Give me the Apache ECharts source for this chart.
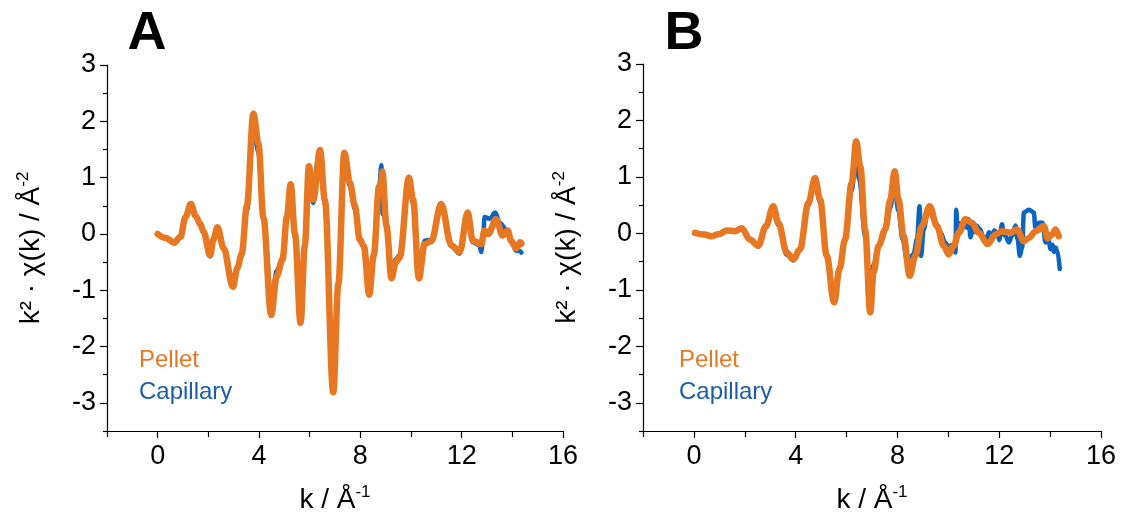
<!DOCTYPE html>
<html>
<head>
<meta charset="utf-8">
<title>EXAFS k²-weighted χ(k)</title>
<script src="https://cdn.jsdelivr.net/npm/echarts@6/dist/echarts.min.js"></script>
<style>
  html, body { margin: 0; padding: 0; background: #ffffff; }
  #chart { width: 1121px; height: 519px; }
</style>
</head>
<body>
<div id="chart"></div>
<script>
// Panel A: k (Å⁻¹) and k²·χ(k) for the pellet and capillary measurements
const kPelletA = [0, 0.3, 0.66, 0.9, 1.1, 1.31, 1.5, 1.68, 1.81, 2.07, 2.2, 2.36, 2.6, 2.97, 3.15, 3.32, 3.52, 3.78, 3.98, 4.17, 4.48, 4.7, 4.93, 5.1, 5.25, 5.42, 5.64, 5.81, 5.97, 6.14, 6.41, 6.6, 6.93, 7.13, 7.37, 7.59, 7.78, 7.98, 8.14, 8.35, 8.53, 8.74, 8.8, 8.87, 9.03, 9.23, 9.4, 9.55, 9.92, 10.08, 10.31, 10.54, 10.8, 11.19, 11.59, 11.92, 12.24, 12.44, 12.77, 12.9, 13.05, 13.36, 13.62, 13.82, 13.95, 14.15, 14.3, 14.36];
const chiPelletA = [0, -0.07, -0.15, -0.05, 0.3, 0.53, 0.32, 0.18, 0.04, -0.38, -0.1, 0.12, -0.25, -0.94, -0.6, -0.35, 0.5, 2.14, 1.6, 0.3, -1.44, -0.75, -0.45, 0.3, 0.88, 0.0, -1.58, -0.2, 1.2, 0.61, 1.49, 0.6, -2.81, -0.9, 1.44, 0.91, 0.5, -0.1, -0.22, -1.08, -0.38, 0.85, 0.75, 1.11, 0.15, -0.79, -0.5, -0.42, 1.0, 0.62, -0.79, -0.18, -0.13, 0.53, -0.2, -0.32, 0.38, -0.12, -0.18, 0.06, 0.0, 0.26, -0.03, 0.06, -0.12, -0.26, -0.15, -0.17];

const kCapillaryA = [0, 0.3, 0.66, 0.9, 1.1, 1.31, 1.5, 1.68, 1.81, 2.07, 2.2, 2.36, 2.6, 2.97, 3.15, 3.32, 3.52, 3.78, 3.98, 4.17, 4.5, 4.7, 4.93, 5.1, 5.25, 5.42, 5.64, 5.81, 5.97, 6.14, 6.41, 6.6, 6.93, 7.13, 7.37, 7.59, 7.78, 7.98, 8.14, 8.35, 8.53, 8.74, 8.83, 8.88, 8.92, 9.03, 9.23, 9.4, 9.55, 9.92, 10.08, 10.31, 10.54, 10.8, 11.19, 11.59, 11.92, 12.24, 12.44, 12.7, 12.77, 12.85, 12.9, 13.1, 13.33, 13.5, 13.76, 13.9, 14.02, 14.15, 14.28, 14.36];
const chiCapillaryA = [0, -0.08, -0.17, -0.07, 0.28, 0.5, 0.3, 0.15, 0.02, -0.4, -0.12, 0.1, -0.27, -0.92, -0.6, -0.38, 0.4, 1.88, 1.45, 0.25, -1.2, -0.65, -0.45, 0.25, 0.75, -0.05, -1.45, -0.25, 1.05, 0.55, 1.35, 0.55, -2.65, -0.85, 1.3, 0.85, 0.45, -0.12, -0.25, -0.95, -0.35, 0.8, 1.22, 0.35, 0.4, 0.1, -0.72, -0.45, -0.38, 0.88, 0.55, -0.72, -0.12, -0.1, 0.5, -0.22, -0.35, 0.35, -0.15, -0.2, -0.32, -0.1, 0.3, 0.27, 0.38, 0.2, 0.08, -0.05, -0.2, -0.3, -0.3, -0.33];

// Panel B: same quantities for the second sample
const kPelletB = [0.04, 0.4, 0.7, 1.0, 1.29, 1.61, 1.88, 2.2, 2.53, 2.83, 3.12, 3.32, 3.65, 3.91, 4.17, 4.5, 4.76, 4.96, 5.22, 5.51, 5.72, 5.94, 6.2, 6.38, 6.54, 6.73, 6.93, 7.06, 7.26, 7.52, 7.72, 7.89, 8.04, 8.24, 8.48, 8.7, 8.96, 9.27, 9.55, 9.82, 10.01, 10.21, 10.41, 10.67, 10.93, 11.19, 11.55, 11.85, 12.11, 12.44, 12.7, 12.97, 13.16, 13.43, 13.75, 13.91, 14.08, 14.21, 14.34];
const chiPelletB = [0.01, -0.02, -0.05, -0.01, 0.05, 0.04, 0.09, -0.11, -0.22, 0.13, 0.48, 0.19, -0.34, -0.46, -0.28, 0.54, 0.98, 0.6, -0.4, -1.22, -0.64, -0.11, 0.89, 1.63, 1.19, 0.07, -1.4, -0.69, -0.22, 0.07, 0.6, 1.1, 0.6, -0.05, -0.75, -0.4, 0.13, 0.48, 0.13, -0.22, -0.37, -0.22, 0.01, 0.25, 0.19, 0.01, -0.19, -0.02, 0.04, 0.01, 0.07, -0.14, -0.08, 0.04, 0.13, -0.09, -0.02, 0.07, -0.05];

const kCapillaryB = [0.04, 0.4, 0.7, 1.0, 1.29, 1.61, 1.88, 2.2, 2.53, 2.83, 3.1, 3.32, 3.65, 3.91, 4.17, 4.5, 4.76, 4.96, 5.22, 5.51, 5.72, 5.94, 6.2, 6.36, 6.5, 6.73, 6.93, 7.06, 7.26, 7.4, 7.55, 7.72, 7.87, 8.04, 8.2, 8.37, 8.5, 8.63, 8.77, 8.87, 8.93, 9.03, 9.22, 9.43, 9.69, 9.88, 10.01, 10.15, 10.28, 10.31, 10.37, 10.45, 10.54, 10.62, 10.74, 10.8, 10.87, 10.95, 11.0, 11.1, 11.26, 11.35, 11.5, 11.6, 11.7, 11.8, 11.92, 12.0, 12.11, 12.18, 12.24, 12.38, 12.5, 12.64, 12.72, 12.81, 12.9, 12.97, 13.16, 13.36, 13.42, 13.56, 13.7, 13.82, 13.92, 14.02, 14.1, 14.15, 14.22, 14.28, 14.38];
const chiCapillaryB = [0.01, -0.02, -0.04, -0.01, 0.05, 0.04, 0.08, -0.12, -0.23, 0.1, 0.45, 0.15, -0.38, -0.48, -0.3, 0.5, 0.92, 0.55, -0.35, -1.1, -0.6, -0.1, 0.75, 1.35, 0.95, -0.05, -1.02, -0.55, -0.25, -0.1, 0.1, 0.45, 0.88, 0.4, -0.1, -0.46, -0.42, -0.37, -0.1, 0.48, -0.4, 0.07, 0.46, 0.25, 0.02, -0.16, -0.25, -0.2, -0.34, 0.42, 0.02, 0.18, 0.06, 0.2, 0.1, 0.25, -0.07, 0.12, 0.02, 0.14, 0.07, -0.05, -0.1, 0.02, -0.08, 0.05, 0.02, -0.12, 0.16, -0.02, -0.04, -0.16, -0.05, 0.14, -0.1, -0.4, -0.25, 0.37, 0.42, 0.37, 0.1, 0.19, 0.19, -0.16, -0.08, -0.28, -0.2, -0.33, -0.25, -0.3, -0.63];

// Axis ticks and labels
const xMajorTicks = [0, 4, 8, 12, 16];
const xMinorTicks = [-2, 2, 6, 10, 14];
const yMajorTicks = [-3, -2, -1, 0, 1, 2, 3];
const yMinorTicks = [-3.5, -2.5, -1.5, -0.5, 0.5, 1.5, 2.5];
const seriesNames = ['Pellet', 'Capillary'];
const panelLetters = ['A', 'B'];

const ORANGE = '#e87722';
const BLUE = '#0a64c2';
const BLUE_TEXT = '#1a5ea8';
const FONT = 'Liberation Sans, Arial, sans-serif';

const pairs = (xs, ys) => xs.map((x, i) => [x, ys[i]]);

const grids = [
  { left: 107, top: 65, width: 456, height: 369 },
  { left: 643, top: 64, width: 458, height: 369 }
];

const tickLine = { color: '#000', width: 1.2 };
const titleRich = {
  b: { fontSize: 28, fontFamily: FONT, color: '#000', lineHeight: 32 },
  s: { fontSize: 17, fontFamily: FONT, color: '#000', verticalAlign: 'top', lineHeight: 32 }
};
const xAxes = [];
const yAxes = [];
grids.forEach((g, gi) => {
  xAxes.push({
    type: 'value', gridIndex: gi, min: -2, max: 16, position: 'bottom',
    axisLine: { show: true, onZero: false, lineStyle: tickLine },
    axisTick: { show: true, inside: false, length: 7, customValues: xMajorTicks, lineStyle: tickLine },
    axisLabel: { show: true, customValues: xMajorTicks, margin: 12, color: '#000', fontSize: 27, fontFamily: FONT },
    splitLine: { show: false },
    name: '{b|k / Å}{s|-1}', nameLocation: 'middle', nameGap: 53,
    nameTextStyle: { rich: titleRich }
  });
  xAxes.push({
    type: 'value', gridIndex: gi, min: -2, max: 16, position: 'bottom',
    axisLine: { show: false, onZero: false },
    axisTick: { show: true, inside: false, length: 6, customValues: xMinorTicks, lineStyle: tickLine },
    axisLabel: { show: false },
    splitLine: { show: false }
  });
  yAxes.push({
    type: 'value', gridIndex: gi, min: -3.5, max: 3, position: 'left',
    axisLine: { show: true, onZero: false, lineStyle: tickLine },
    axisTick: { show: true, inside: false, length: 7, customValues: yMajorTicks, lineStyle: tickLine },
    axisLabel: { show: true, customValues: yMajorTicks, margin: 11, color: '#000', fontSize: 27, fontFamily: FONT },
    splitLine: { show: false },
    name: '{b|k² · χ(k) / Å}{s|-2}', nameLocation: 'middle', nameGap: 60, nameRotate: 90,
    nameTextStyle: { rich: titleRich }
  });
  yAxes.push({
    type: 'value', gridIndex: gi, min: -3.5, max: 3, position: 'left',
    axisLine: { show: false, onZero: false },
    axisTick: { show: true, inside: false, length: 4, customValues: yMinorTicks, lineStyle: tickLine },
    axisLabel: { show: false },
    splitLine: { show: false }
  });
});

const lineSeries = (name, data, gi, color, width, z) => ({
  name, type: 'line', data,
  xAxisIndex: gi * 2, yAxisIndex: gi * 2,
  showSymbol: false, smooth: 0.35, smoothMonotone: 'x',
  lineStyle: { color, width, cap: 'round', join: 'round' },
  z, silent: true
});

const series = [
  lineSeries(seriesNames[1], pairs(kCapillaryA, chiCapillaryA), 0, BLUE, 4.5, 2),
  lineSeries(seriesNames[0], pairs(kPelletA, chiPelletA), 0, ORANGE, 6.5, 3),
  lineSeries(seriesNames[1], pairs(kCapillaryB, chiCapillaryB), 1, BLUE, 4.5, 2),
  lineSeries(seriesNames[0], pairs(kPelletB, chiPelletB), 1, ORANGE, 6.5, 3)
];

// Panel letters and the coloured sample labels inside each plot
const graphics = [];
[[147, 139], [684, 679]].forEach(([letterX, legendX], i) => {
  graphics.push({
    type: 'text', x: letterX, y: 34,
    style: { text: panelLetters[i], fill: '#000', font: 'bold 54px ' + FONT, align: 'center', verticalAlign: 'middle' }
  });
  graphics.push({
    type: 'text', x: legendX, y: 360,
    style: { text: seriesNames[0], fill: ORANGE, font: '24px ' + FONT, align: 'left', verticalAlign: 'middle' }
  });
  graphics.push({
    type: 'text', x: legendX, y: 392,
    style: { text: seriesNames[1], fill: BLUE_TEXT, font: '24px ' + FONT, align: 'left', verticalAlign: 'middle' }
  });
});

const chart = echarts.init(document.getElementById('chart'), null, { renderer: 'canvas' });
chart.setOption({
  animation: false,
  backgroundColor: '#ffffff',
  grid: grids,
  xAxis: xAxes,
  yAxis: yAxes,
  series,
  graphic: graphics
});
</script>
</body>
</html>
